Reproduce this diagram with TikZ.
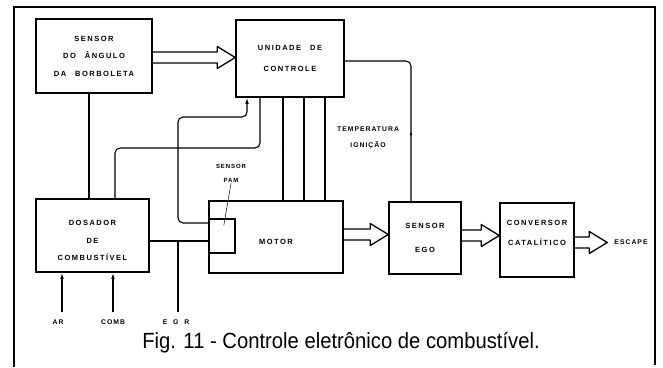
\documentclass[tikz,border=0pt]{standalone}
\usepackage{fontspec}
\setmainfont{Liberation Sans}
\newfontfamily\boxfont[LetterSpace=20,WordSpace=2.5]{Liberation Sans}
\newfontfamily\lblfont[LetterSpace=15,WordSpace=2]{Liberation Sans}
\usetikzlibrary{arrows.meta,calc,decorations.markings}

\tikzset{
  blk/.style={draw,line width=1.5pt,inner sep=0pt,align=center,
    font=\boxfont\bfseries\fontsize{7.5}{17.5}\selectfont},
  sig/.style={line width=1.1pt},
  lbl/.style={inner sep=1pt,align=center,
    font=\lblfont\bfseries\fontsize{6.8}{16}\selectfont},
  fat/.style={line width=1.3pt,line join=round},
  intip/.style={-{Latex[length=6pt,width=3.6pt]}},
  midtip/.style={postaction={decorate},decoration={markings,
    mark=at position #1 with {\arrow{Latex[length=4pt,width=2.6pt]}}}}
}
% seta larga (contorno) entre dois pontos, na altura #3
\newcommand{\fatarrow}[3]{%
  \draw[fat] let \p1=(#1), \p2=(#2), \p3=(0,#3) in
    (\x1,\y3+5.5pt) -- (\x2-18pt,\y3+5.5pt) -- (\x2-18pt,\y3+11pt) -- (\x2,\y3)
    -- (\x2-18pt,\y3-11pt) -- (\x2-18pt,\y3-5.5pt) -- (\x1,\y3-5.5pt);}

\begin{document}
\begin{tikzpicture}[x=1pt,y=-1pt]
  \useasboundingbox (0,0) rectangle (663,367);
  % moldura
  \draw[line width=1.2pt] (14,367) -- (14,7) -- (655,7) -- (655,365);
  % blocos
  \node[blk,minimum width=116,minimum height=74] (sensor) at (94,56) {SENSOR\\DO ÂNGULO\\DA BORBOLETA};
  \node[blk,minimum width=108,minimum height=77] (ctrl) at (290,58.5) {UNIDADE DE\\[3pt]CONTROLE};
  \node[blk,minimum width=113,minimum height=73] (dos) at (92.5,235.5) {\rule{0pt}{16pt}DOSADOR\\DE\\COMBUSTÍVEL};
  \node[blk,minimum width=134,minimum height=72] (motor) at (276,237) {\rule{0pt}{15pt}MOTOR};
  \node[draw,sig,minimum width=26,minimum height=34,inner sep=0pt] (pam) at (222,236) {};
  \node[blk,minimum width=72,minimum height=72] (ego) at (425,238) {SENSOR\\[6pt]EGO};
  \node[blk,minimum width=74,minimum height=74] (conv) at (537,240) {CONVERSOR\\[3pt]CATALÍTICO\rule[-14pt]{0pt}{0pt}};
  % rotulos
  \node[lbl,inner sep=0pt] (esc) at (631,242) {ESCAPE};
  \node[lbl] (temp) at (368,138) {TEMPERATURA\\IGNIÇÃO};
  \node[lbl,font=\lblfont\bfseries\fontsize{6}{14}\selectfont] (pamlbl) at (231,173) {SENSOR\\PAM};
  \node[lbl] (ar) at (58,322) {AR};
  \node[lbl] (comb) at (113,322) {COMB};
  \node[lbl] (egr) at (176,322) {E G R};
  \node[anchor=base,font=\fontsize{22}{26}\selectfont] (cap) at (341,348)
    {\scalebox{0.92}[1]{Fig. 11 - Controle eletrônico de combustível.}};
  % setas largas
  \fatarrow{sensor.east}{ctrl.west}{57.5}
  \fatarrow{motor.east}{ego.west}{234.5}
  \fatarrow{ego.east}{conv.west}{235.5}
  \fatarrow{conv.east}{[xshift=-7pt]esc.west}{242.5}
  % sinais
  \draw[sig] (sensor.south -| 89,0) -- (dos.north -| 89,0);
  \draw[sig,rounded corners=5] (dos.north -| 115,0) |- (260,148) -- (ctrl.south -| 260,0);
  \draw[sig,rounded corners=5,intip] (pam.west |- 0,223) -| (178,117) -| (ctrl.south -| 247,0);
  \foreach \x/\p in {283/0.5,304/0.61,325/0.46}
    \draw[sig,midtip=\p] (ctrl.south -| \x,0) -- (motor.north -| \x,0);
  \draw[sig,rounded corners=5,midtip=70pt] (ego.north -| 411,0) |- (ctrl.east |- 0,61);
  \draw[sig] (dos.east |- 0,241) -- (pam.west |- 0,241);
  \coordinate (arin) at (62,312);
  \coordinate (combin) at (113,312);
  \coordinate (egrin) at (178,312);
  \draw[sig,intip] (arin) -- (arin |- dos.south);
  \draw[sig,intip] (combin) -- (combin |- dos.south);
  \draw[sig] (egrin) -- (egrin |- 0,241);
  \draw[line width=0.5pt] (pamlbl.south) -- ($(pamlbl.south)!0.8!(pam.center)$);
\end{tikzpicture}
\end{document}
